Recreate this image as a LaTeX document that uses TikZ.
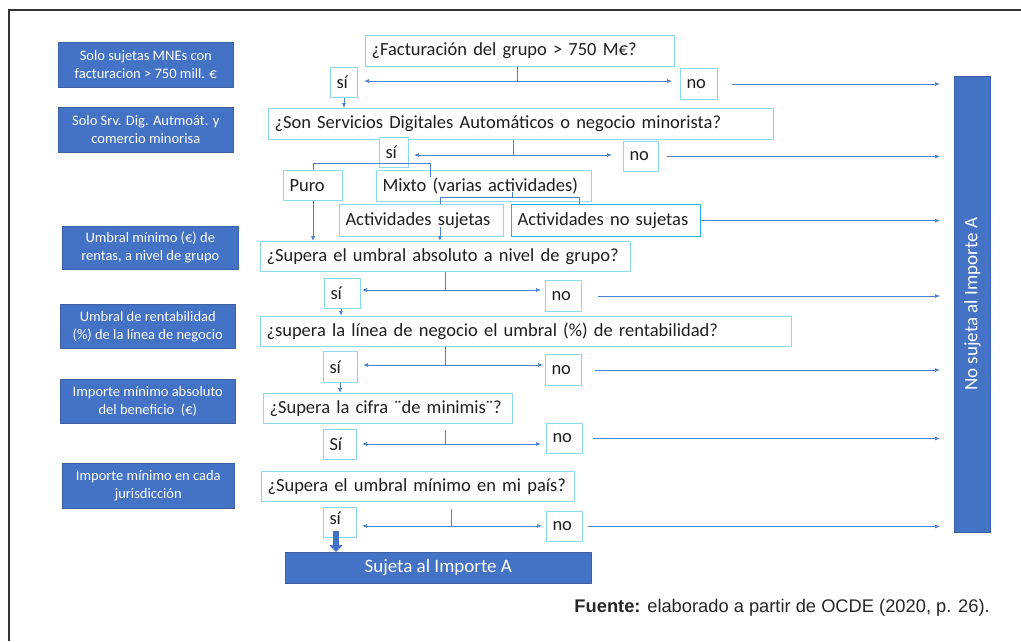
\documentclass[tikz,border=0pt]{standalone}
\usepackage{fontspec}
\setmainfont{Carlito}
\newfontfamily\fuentefont{Liberation Sans}
\usetikzlibrary{arrows.meta,calc}
\definecolor{bluef}{HTML}{4472C4}
\definecolor{cyanb}{HTML}{8DD8F2}
\definecolor{cyand}{HTML}{1FB4EC}
\definecolor{lnc}{HTML}{4F7FD0}
\newcommand\myqf{\fontsize{18.5}{21}\selectfont}
\newcommand\mylf{\fontsize{14.5}{18}\selectfont}
\newcommand\mybf{\fontsize{19}{22}\selectfont}
\tikzset{
  qb/.style={draw=cyanb, line width=1pt, fill=white, anchor=north west, inner xsep=6pt, inner ysep=0pt, font=\myqf, align=left, text=black!88},
  lb/.style={fill=bluef, draw=bluef!85!black, line width=0.6pt, text=white, font=\mylf, align=center, anchor=north west, inner sep=0pt},
  ln/.style={draw=lnc, line width=0.7pt},
  arr/.style={draw=lnc, line width=0.7pt, -{Latex[length=5pt,width=4pt]}},
}
\begin{document}
\begin{tikzpicture}[x=1pt,y=-1pt]
\useasboundingbox (0,0) rectangle (1021,641);
\draw[line width=1.2pt, black!80] (9,641) -- (9,10) -- (1021,10);

% left blue boxes
\node[lb, minimum width=175, minimum height=45] (l1) at (58,42) {Solo sujetas MNEs con\\facturacion > 750 mill. €};
\node[lb, minimum width=175, minimum height=45] (l2) at (58,107) {Solo Srv. Dig. Autmoát. y\\comercio minorisa};
\node[lb, minimum width=176, minimum height=43] (l3) at (62,226) {Umbral mínimo (€) de\\rentas, a nivel de grupo};
\node[lb, minimum width=175, minimum height=44] (l4) at (60,304) {Umbral de rentabilidad\\(\%) de la línea de negocio};
\node[lb, minimum width=175, minimum height=44] (l5) at (60,379) {Importe mínimo absoluto\\del beneficio~~(€)};
\node[lb, minimum width=172, minimum height=45] (l6) at (62,463) {Importe mínimo en cada\\jurisdicción};

% questions and answers
\node[qb, text width=297, minimum height=31] (q1) at (365,35) {¿Facturación del grupo > 750 M€?};
\node[qb, text width=15, minimum height=30] (s1) at (330,67) {sí};
\node[qb, text width=25, minimum height=31] (n1) at (680,68) {no};

\node[qb, text width=493, minimum height=31] (q2) at (268,108) {¿Son Servicios Digitales Automáticos o negocio minorista?};
\node[qb, text width=17, minimum height=30] (s2) at (379,137) {sí};
\node[qb, text width=23, minimum height=30] (n2) at (623,141) {no};

\node[qb, text width=47, minimum height=30] (puro) at (283,170) {Puro};
\node[qb, text width=203, minimum height=31] (mixto) at (376,170) {Mixto (varias actividades)};
\node[qb, text width=152, minimum height=32] (as) at (339,204) {Actividades sujetas};
\node[qb, draw=cyand, line width=1.4pt, text width=177, minimum height=32] (ans) at (511,204) {Actividades no sujetas};

\node[qb, text width=358, minimum height=30] (q3) at (260,241) {¿Supera el umbral absoluto a nivel de grupo?};
\node[qb, text width=24, minimum height=30] (s3) at (324,278) {sí};
\node[qb, text width=24, minimum height=31] (n3) at (545,280) {no};

\node[qb, text width=519, minimum height=30] (q4) at (260,316) {¿supera la línea de negocio el umbral (\%) de rentabilidad?};
\node[qb, text width=22, minimum height=31] (s4) at (323,351) {sí};
\node[qb, text width=24, minimum height=31] (n4) at (545,354) {no};

\node[qb, text width=237, minimum height=30] (q5) at (263,393) {¿Supera la cifra ¨de minimis¨?};
\node[qb, text width=21, minimum height=30] (s5) at (323,429) {Sí};
\node[qb, text width=24, minimum height=30] (n5) at (546,423) {no};

\node[qb, text width=301, minimum height=30] (q6) at (261,471) {¿Supera el umbral mínimo en mi país?};
\node[qb, text width=21, minimum height=30, text depth=9pt] (s6) at (323,507) {sí};
\node[qb, text width=24, minimum height=30] (n6) at (546,511) {no};

\node[lb, font=\mybf, minimum width=306, minimum height=31] (sa) at (285,552) {Sujeta al Importe A};
\node[lb, minimum width=36, minimum height=456] (bar) at (954,76) {};
\node[rotate=90, text=white, font=\mybf] (bartxt) at (bar.center) {No sujeta al Importe A};

% connectors level 1
\coordinate (j1) at (517,81);
\draw[ln] (q1.south -| j1) -- (j1);
\draw[arr, shorten >=6pt] (j1) -- (s1.east |- j1);
\draw[arr, shorten >=8pt] (j1) -- (n1.west |- j1);
\draw[arr] (s1.south) -- (s1.south |- q2.north);
\draw[arr, shorten <=14pt, shorten >=14pt] (n1.east) -- (bar.west |- n1.east);

% level 2
\coordinate (j2) at (513,155);
\draw[ln] (q2.south -| j2) -- (j2);
\draw[arr, shorten >=5pt] (j2) -- (s2.east |- j2);
\draw[arr, shorten >=11pt] (j2) -- (n2.west |- j2);
\draw[arr, shorten <=8pt, shorten >=14pt] (n2.east) -- (bar.west |- n2.east);

% puro / mixto
\coordinate (m0) at (430,163);
\coordinate (m1) at (430,177);
\draw[ln] (puro.north) |- (m0) -- (m1);
\draw[arr] (puro.south) -- (puro.south |- q3.north);
\coordinate (k0) at (512,192);
\coordinate (k1) at (512,197);
\coordinate (ka) at (440,197);
\coordinate (kb) at (579,197);
\draw[ln] (k0) -- (k1);
\draw[ln] (ka) -- (kb);
\draw[ln] (ka) -- (as.north -| ka);
\draw[ln] (kb) -- (ans.north -| kb);
\draw[arr] ([yshift=10pt]as.south -| ka) -- (q3.north -| ka);
\draw[arr, shorten >=14pt] (ans.east) -- (bar.west |- ans.east);

% level 3
\coordinate (j3) at (445,290);
\draw[ln] (q3.south -| j3) -- (j3);
\draw[arr, shorten >=1pt] (j3) -- (s3.east |- j3);
\draw[arr, shorten >=4pt] (j3) -- (n3.west |- j3);
\draw[arr] (s3.south -| 341,0) -- (q4.north -| 341,0);
\draw[arr, shorten <=16pt, shorten >=14pt] (n3.east) -- (bar.west |- n3.east);

% level 4
\coordinate (j4) at (445,365);
\draw[ln] (q4.south -| j4) -- (j4);
\draw[arr, shorten >=5pt] (j4) -- (s4.east |- j4);
\draw[arr, shorten >=2pt] (j4) -- (n4.west |- j4);
\draw[arr] (s4.south -| 340,0) -- (q5.north -| 340,0);
\draw[arr, shorten <=13pt, shorten >=14pt] (n4.east) -- (bar.west |- n4.east);

% level 5
\coordinate (j5) at (445,444);
\draw[ln] ($(q5.south -| j5)+(0,6)$) -- (j5);
\draw[arr, shorten >=5pt] (j5) -- (s5.east |- j5);
\draw[arr, shorten >=5pt] (j5) -- (n5.west |- j5);
\draw[arr, shorten <=10pt, shorten >=14pt] (n5.east) -- (bar.west |- n5.east);

% level 6
\coordinate (j6) at (451,526);
\draw[ln] ($(q6.south -| j6)+(0,7)$) -- (j6);
\draw[arr, shorten >=5pt] (j6) -- (s6.east |- j6);
\draw[arr, shorten >=4pt] (j6) -- (n6.west |- j6);
\draw[arr, shorten <=5pt, shorten >=14pt] (n6.east) -- (bar.west |- n6.east);
\draw[bluef, line width=5.5pt, -{Triangle[length=7pt,width=13pt]}] (336,531) -- (sa.north -| 336,0);

% source
\node[anchor=base east, font=\fuentefont\fontsize{18.3}{21}\selectfont, text=black!85, inner sep=0pt] (src) at (990,612) {\textbf{Fuente:} elaborado a partir de OCDE (2020, p. 26).};
\end{tikzpicture}
\end{document}
